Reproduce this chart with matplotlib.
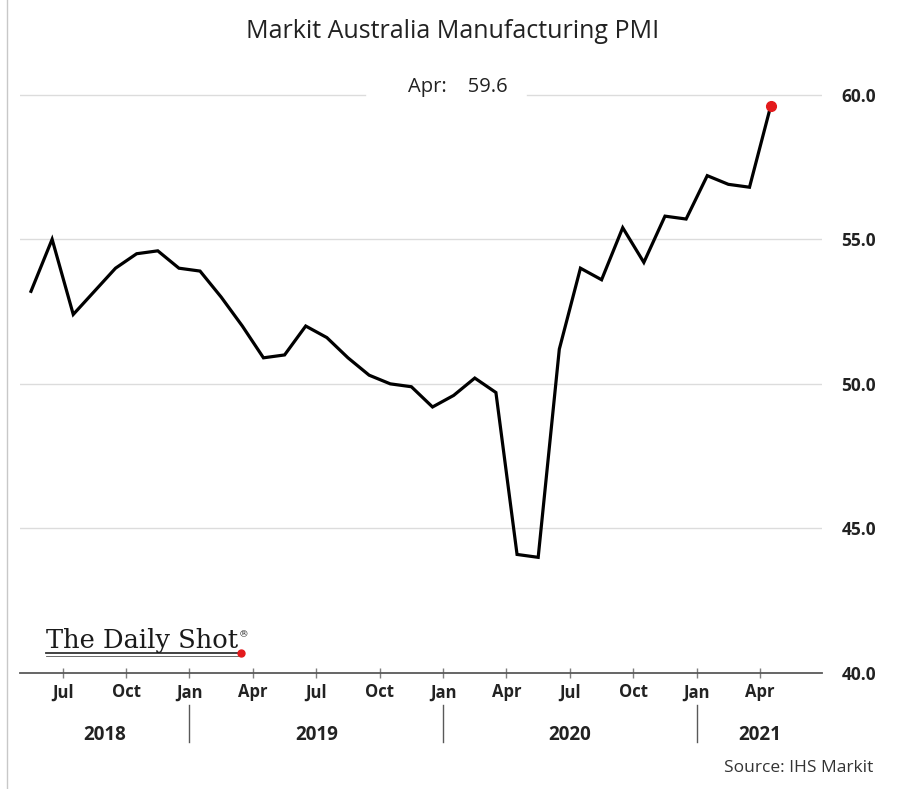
import matplotlib
matplotlib.use('Agg')
import matplotlib.pyplot as plt
import matplotlib.transforms as mtransforms
from matplotlib.lines import Line2D
import pandas as pd

plt.rcParams['font.family'] = ['Open Sans', 'DejaVu Sans']

# ---------------- data ----------------
title = "Markit Australia Manufacturing PMI"
source = "Source: IHS Markit"
start_month = "2018-05"
values = [53.2, 55.0, 52.4, 53.2, 54.0, 54.5, 54.6, 54.0, 53.9, 53.0,
          52.0, 50.9, 51.0, 52.0, 51.6, 50.9, 50.3, 50.0, 49.9, 49.2,
          49.6, 50.2, 49.7, 44.1, 44.0, 51.2, 54.0, 53.6, 55.4, 54.2,
          55.8, 55.7, 57.2, 56.9, 56.8, 59.6]
y_ticks = [40.0, 45.0, 50.0, 55.0, 60.0]
tick_month_numbers = [1, 4, 7, 10]

periods = pd.period_range(start_month, periods=len(values), freq='M')
x = list(range(len(values)))

W, H = 904, 789
fig = plt.figure(figsize=(W / 100, H / 100), dpi=100)
ax = fig.add_axes([20 / W, 1 - 673 / H, 802 / W, 613 / H])
xlim = (-0.52, 37.43)
ax.set_xlim(*xlim)
ax.set_ylim(40, 61.2)

# gridlines
grid_col = '#dcdcdc'
for yv in y_ticks[1:-1]:
    ax.axhline(yv, color=grid_col, lw=1, zorder=0)
ax.axhline(y_ticks[-1], xmin=0, xmax=(365 - 20) / 802, color=grid_col, lw=1, zorder=0)
ax.axhline(y_ticks[-1], xmin=(527 - 20) / 802, xmax=1, color=grid_col, lw=1, zorder=0)

# series
ax.plot(x, values, color='black', lw=2.3, zorder=3, solid_joinstyle='miter')
ax.plot(x[-1], values[-1], 'o', color='#e31a1c', ms=7, zorder=4)

# last value annotation
ax.text(20.2, 60.27, f"{periods[-1].strftime('%b')}:    {values[-1]}",
        ha='center', va='center', fontsize=14.5, color='#222222')

# spines
for s in ['top', 'left', 'right']:
    ax.spines[s].set_visible(False)
ax.spines['bottom'].set_color('#595959')
ax.spines['bottom'].set_linewidth(1.3)

# x ticks
tick_pos = [i - 0.5 for i, p in enumerate(periods) if p.month in tick_month_numbers]
tick_lab = [p.strftime('%b') for p in periods if p.month in tick_month_numbers]
ax.set_xticks(tick_pos)
ax.set_xticklabels(tick_lab, fontweight='bold')
ax.tick_params(axis='x', direction='inout', length=7, width=1, color='#7f7f7f',
               pad=4, labelsize=12, labelcolor='#222222')

# y ticks on right
ax.yaxis.tick_right()
ax.set_yticks(y_ticks)
ax.set_yticklabels([f"{v:.1f}" for v in y_ticks], fontweight='bold')
ax.tick_params(axis='y', length=0, pad=14, labelsize=12.5, labelcolor='#222222')

# year labels and separators
trans = mtransforms.blended_transform_factory(ax.transData, ax.transAxes)
jan_pos = [i - 0.5 for i, p in enumerate(periods) if p.month == 1]
years = sorted(set(p.year for p in periods))
bounds = [xlim[0]] + jan_pos + [xlim[1]]
for k, yr in enumerate(years):
    cx = (bounds[k] + bounds[k + 1]) / 2
    ax.text(cx, -0.101, str(yr), transform=trans, ha='center', va='center',
            fontsize=13.5, fontweight='bold', color='#222222')
for xj in jan_pos:
    ax.plot([xj, xj], [-0.052, -0.1126], transform=trans, clip_on=False,
            color='#595959', lw=1)

# title & source
fig.text(453 / W, 1 - 32 / H, title, ha='center', va='center', fontsize=18,
         color='#222222')
fig.text(873 / W, 1 - 768 / H, source, ha='right', va='center', fontsize=12.5,
         color='#333333')

# left frame line
fig.add_artist(Line2D([7 / W, 7 / W], [0, 1], transform=fig.transFigure,
                      color='#c8c8c8', lw=1))

# logo
logo = fig.text(46 / W, 1 - 648 / H, "The Daily Shot", family='DejaVu Serif',
                fontsize=18.5, va='baseline', ha='left', color='#1a1a1a')
fig.canvas.draw()
bb = logo.get_window_extent(renderer=fig.canvas.get_renderer())
x0, x1 = bb.x0 / W, bb.x1 / W
fig.text(x1 + 1 / W, bb.y1 / H - 2 / H, "®", family='DejaVu Serif', fontsize=7,
         va='top', ha='left', color='#222222')
yl = 1 - 653 / H
fig.add_artist(Line2D([x0, x1], [yl, yl], transform=fig.transFigure,
                      color='#333333', lw=1.3))
fig.add_artist(Line2D([x0, x1], [yl - 2.5 / H, yl - 2.5 / H], transform=fig.transFigure,
                      color='#555555', lw=0.6))
fig.add_artist(Line2D([x1 + 3 / W], [yl], transform=fig.transFigure, marker='o',
                      color='#e31a1c', ms=5, lw=0))

fig.savefig('out.png', dpi=100, facecolor='white')
